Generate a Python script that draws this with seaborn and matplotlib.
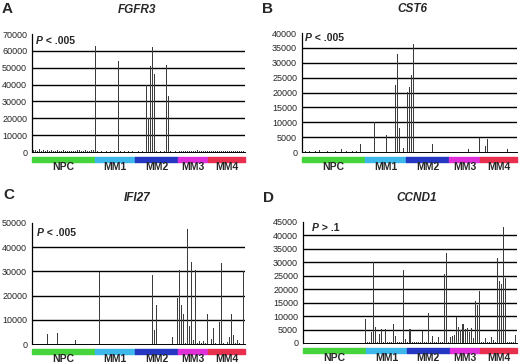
import numpy as np
import matplotlib
matplotlib.use("Agg")
import matplotlib.pyplot as plt
import matplotlib.transforms as mtransforms
from matplotlib.patches import Rectangle
import seaborn as sns

# sample groups (normal plasma cells + 4 myeloma subgroups)
groups = ["NPC", "MM1", "MM2", "MM3", "MM4"]
group_sizes = [31, 20, 21, 15, 18]
group_colors = ["#46d43c", "#3cb8ea", "#2438c4", "#e02ed8", "#e8304e"]

# expression values, one per sample, grouped NPC | MM1 | MM2 | MM3 | MM4
fgfr3 = [900, 1200, 600, 1500, 800, 1300, 700, 1100, 500, 900, 600, 800, 1000, 400, 700, 900,
         600, 500, 800, 700, 400, 600, 900, 1200, 500, 800, 1400, 700, 600, 1000, 900,
         63000, 300, 200, 300, 200, 300, 200, 300, 200, 300, 200, 54000, 300, 200, 300, 200, 300, 200, 300, 200,
         200, 300, 200, 300, 200, 40000, 20000, 51000, 62000, 46000, 300, 200, 300, 200, 300, 51500, 33000,
         300, 200, 300, 200,
         300, 400, 300, 500, 300, 400, 300, 500, 400, 1000, 400, 300, 500, 300, 400,
         400, 500, 300, 600, 400, 500, 300, 400, 600, 300, 500, 400, 300, 600, 500, 400, 700, 500]

cst6 = [150, 200, 150, 500, 150, 100, 200, 150, 800, 150, 100, 150, 200, 150, 100, 150,
        200, 150, 100, 1000, 150, 200, 150, 100, 500, 150, 200, 150, 2600, 150, 100,
        100, 150, 100, 150, 10000, 100, 150, 100, 150, 100, 5600, 100, 150, 100, 22400, 32800, 8000, 100, 1200, 100,
        20200, 22000, 26000, 36400, 150, 100, 150, 100, 150, 100, 150, 100, 2800, 100, 150, 100, 150, 100,
        150, 100, 150,
        100, 150, 100, 150, 100, 150, 100, 150, 100, 900, 150, 100, 150, 100, 4800,
        150, 100, 2000, 4500, 150, 100, 150, 100, 150, 100, 150, 100, 150, 1100, 150, 100, 150, 100]

ifi27 = [100, 50, 100, 50, 100, 50, 100, 4100, 50, 100, 50, 100, 4700, 100, 50, 100,
         50, 100, 50, 100, 50, 1800, 100, 50, 100, 50, 100, 50, 100, 50, 100,
         50, 100, 29600, 100, 50, 100, 50, 100, 50, 100, 50, 100, 50, 100, 50, 100, 50, 100, 50, 100,
         100, 50, 100, 50, 100, 50, 100, 50, 28400, 5600, 16200, 100, 50, 100, 50, 100, 50, 100, 2900,
         100, 19000,
         30400, 16200, 12500, 500, 47700, 7600, 33900, 1800, 30400, 300, 1100, 300, 1100, 300, 12400,
         200, 2000, 6600, 300, 200, 9000, 33500, 300, 200, 1000, 3000, 12500, 3600, 300, 1500, 300, 200, 30000]

ccnd1 = [100, 150, 100, 150, 100, 150, 100, 150, 100, 150, 100, 150, 100, 150, 100, 150,
         100, 150, 100, 150, 100, 150, 100, 150, 100, 150, 100, 150, 100, 150, 9100,
         200, 300, 4000, 30000, 6000, 300, 3200, 5100, 300, 5100, 300, 500, 300, 7000, 2600, 300, 200, 300,
         27000, 1600,
         300, 5100, 300, 200, 300, 200, 300, 4500, 300, 200, 11000, 300, 2500, 300, 200, 2200, 300, 200,
         25800, 33400, 300,
         2200, 2500, 3100, 9700, 6000, 4700, 6900, 5100, 5600, 4100, 5400, 2000, 15600, 14300, 19300,
         300, 200, 2000, 300, 200, 2200, 1000, 300, 31500, 23000, 22000, 43300, 24000, 500, 300, 200, 300, 2900]

genes = ["FGFR3", "CST6", "IFI27", "CCND1"]
letters = ["A", "B", "C", "D"]
pvals = ["< .005", "< .005", "< .005", "> .1"]
ymaxs = [70000, 40000, 50000, 45000]
ysteps = [10000, 5000, 10000, 5000]

W, H = 520, 364
sns.set_style("white")
plt.rcParams["font.family"] = ["Liberation Sans", "DejaVu Sans"]

fig = plt.figure(figsize=(W / 100, H / 100), dpi=100)


def fx(x, y):
    return x / W, 1 - y / H


# axes boxes in pixels: left, top, right, bottom
boxes = [(32, 34, 245, 152), (302, 33, 517, 152), (32, 223, 245, 344), (303, 222, 517, 343)]
title_pos = [(137, 10), (412, 9), (137, 198), (417, 198)]
letter_pos = [(2, 9), (262, 9), (3, 195), (263, 198)]
p_pos = [(36, 41), (305, 38), (37, 233), (312, 228)]

data = [fgfr3, cst6, ifi27, ccnd1]
for k in range(4):
    l, t, r, b = boxes[k]
    ax = fig.add_axes([l / W, 1 - b / H, (r - l) / W, (b - t) / H])
    vals = data[k]
    n = len(vals)
    sns.barplot(x=np.arange(n), y=vals, color="#3c3c3c", width=0.5, saturation=1,
                errorbar=None, linewidth=0, ax=ax, zorder=3)
    ax.set_xlim(-0.5, n - 0.5)
    ax.set_ylim(0, ymaxs[k])
    ticks = np.arange(0, ymaxs[k] + 1, ysteps[k])
    ax.set_yticks(ticks)
    ax.set_yticklabels([str(v) for v in ticks], fontsize=6.5)
    for v in ticks[1:-1]:
        ax.axhline(v, color="black", lw=1.0, zorder=1)
    ax.set_xticks(np.arange(n))
    ax.set_xticklabels([])
    ax.tick_params(axis="x", length=1.5, width=0.5, color="black")
    ax.tick_params(axis="y", length=2, width=0.7, color="black", pad=1.5)
    ax.set_xlabel("")
    ax.set_ylabel("")
    for s in ["top", "right"]:
        ax.spines[s].set_visible(False)
    ax.spines["left"].set_color("black")
    ax.spines["left"].set_linewidth(0.9)
    ax.spines["bottom"].set_color("black")
    ax.spines["bottom"].set_linewidth(0.7)

    # coloured group strip under the samples
    hpx = b - t
    trans = mtransforms.blended_transform_factory(ax.transData, ax.transAxes)
    start = -0.5
    for g, size, col in zip(groups, group_sizes, group_colors):
        ax.add_patch(Rectangle((start, -9.5 / hpx), size, 4.5 / hpx, transform=trans,
                               color=col, clip_on=False))
        ax.text(start + size / 2, -15 / hpx, g, transform=trans, ha="center", va="center",
                fontsize=7.5, fontweight="bold")
        start += size

    fig.text(*fx(*title_pos[k]), genes[k], ha="center", va="center", fontsize=8.5,
             fontweight="bold", fontstyle="italic")
    fig.text(*fx(*letter_pos[k]), letters[k], ha="left", va="center", fontsize=11,
             fontweight="bold")
    ptxt = fig.text(*fx(*p_pos[k]), "P", ha="left", va="center", fontsize=7.5,
                    fontweight="bold", fontstyle="italic")
    ax.annotate(" " + pvals[k], xy=(1, 0.5), xycoords=ptxt, ha="left", va="center",
                fontsize=7.5, fontweight="bold")

fig.savefig("out.png", dpi=100)
